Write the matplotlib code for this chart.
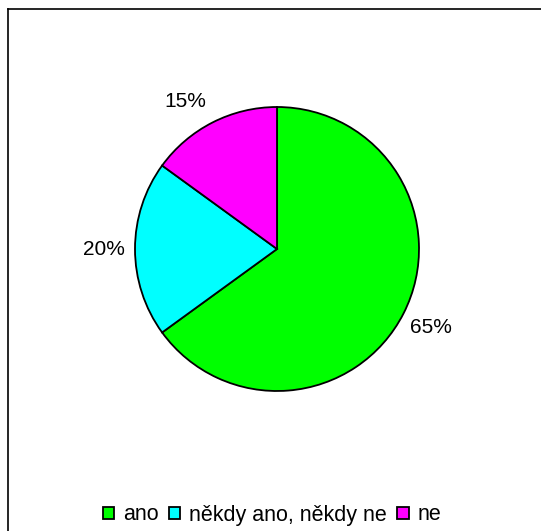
import matplotlib
matplotlib.use("Agg")
import matplotlib.pyplot as plt
from matplotlib.patches import Patch
from matplotlib.lines import Line2D

plt.rcParams['font.family'] = ['Liberation Sans', 'DejaVu Sans']

# data
categories = ["ano", "někdy ano, někdy ne", "ne"]
values = [65, 20, 15]
colors = ["#00ff00", "#00ffff", "#ff00ff"]

W, H = 541, 531
fig = plt.figure(figsize=(W / 100, H / 100), dpi=100)

# pie: centre ~ (277, 249) px, radius ~142 px
cx, cy, r = 277, 249, 142
ax = fig.add_axes([(cx - r) / W, (H - cy - r) / H, 2 * r / W, 2 * r / H])
wedges, texts = ax.pie(values, colors=colors, startangle=90, counterclock=False,
                       labels=[f"{v}%" for v in values], labeldistance=1.22,
                       wedgeprops=dict(edgecolor="black", linewidth=1.3),
                       textprops=dict(fontsize=15))
for t in texts:
    t.set_ha("center")
    t.set_va("center")
# small label is nudged a bit to the left, as in the original
x, y = texts[2].get_position()
texts[2].set_position((x - 0.09, y - 0.05))
ax.set_xlim(-1, 1)
ax.set_ylim(-1, 1)
ax.set_aspect("equal")
ax.axis("off")

# legend
handles = [Patch(facecolor=c, edgecolor="black", linewidth=1.3) for c in colors]
fig.legend(handles, categories, loc="center", bbox_to_anchor=(272 / W, (H - 515) / H),
           ncol=3, frameon=False, fontsize=15.5, handlelength=0.52, handleheight=0.52,
           handletextpad=0.4, columnspacing=0.5, borderpad=0)

# chart border (only top/left visible)
fig.add_artist(Line2D([7.5 / W, 7.5 / W], [0, (H - 8.5) / H], color="black", lw=1.2,
                      transform=fig.transFigure))
fig.add_artist(Line2D([7.5 / W, 1], [(H - 8.5) / H, (H - 8.5) / H], color="black", lw=1.2,
                      transform=fig.transFigure))

fig.savefig("out.png", dpi=100, facecolor="white")
